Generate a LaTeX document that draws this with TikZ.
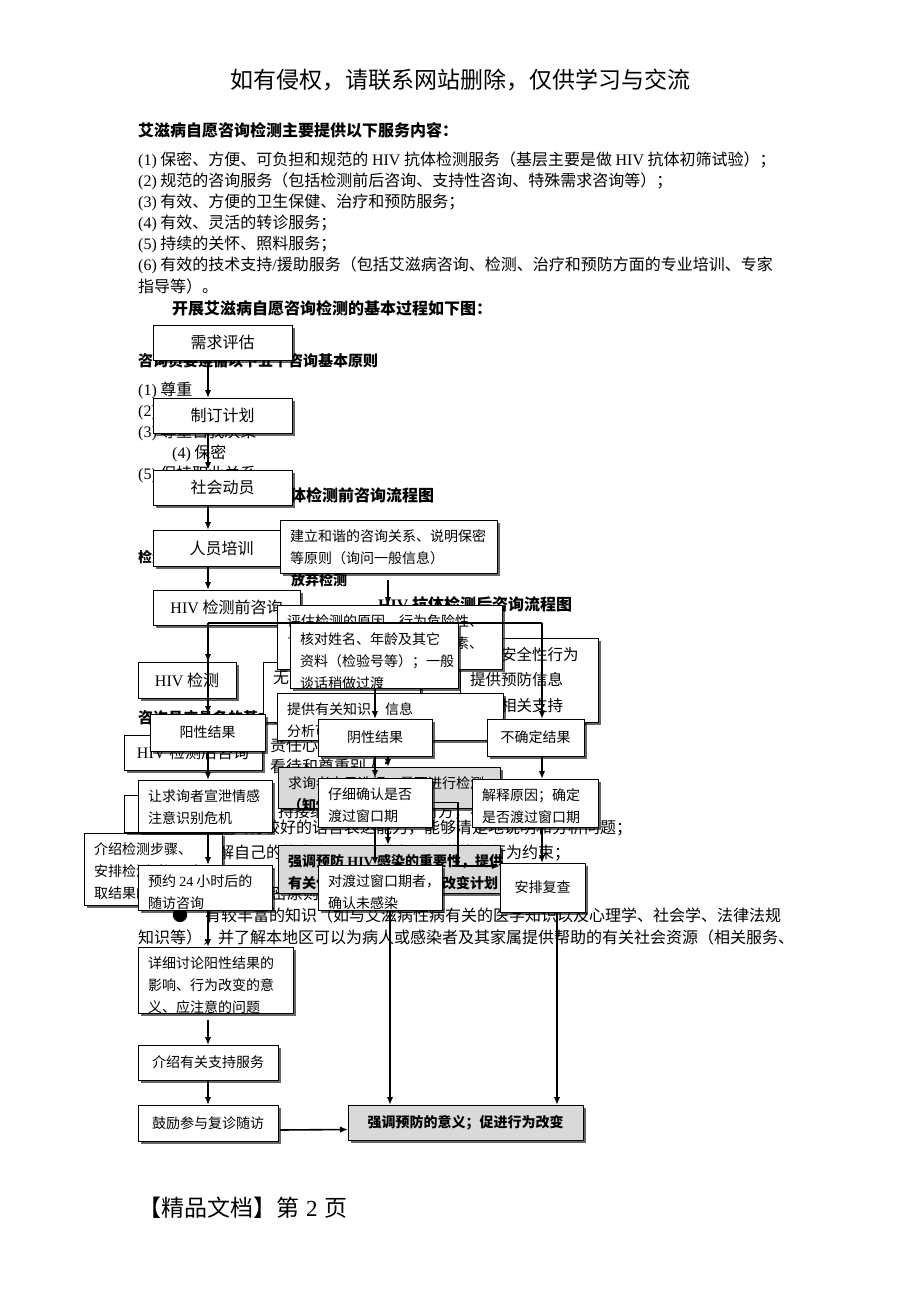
\documentclass[tikz,border=0pt]{standalone}
\usepackage{fontspec}
\setmainfont{Noto Sans CJK SC}
\newfontfamily\lat{Liberation Serif}
\usetikzlibrary{shadows,arrows.meta,calc}
\newcommand\bxc[7]{\node[#6,minimum width={(#4)-(#2)},minimum height={(#5)-(#3)}] (#1) at ({((#2)+(#4))/2},{((#3)+(#5))/2}) {#7};}
\newcommand\bxm[8]{\node[#6,minimum width={(#4)-(#2)},minimum height={(#5)-(#3)}] (#1) at ({((#2)+(#4))/2},{((#3)+(#5))/2}) {};
  \node[anchor=north west,inner sep=0pt,align=left,#7] (#1t) at ({(#2)+10},{(#3)+9}) {#8};}
\tikzset{
 bx/.style={draw, line width=0.8pt, fill=white, inner sep=0pt, outer sep=0pt,
   drop shadow={shadow xshift=3pt, shadow yshift=-3pt, fill=black, opacity=0.6}},
 gbx/.style={bx, fill=black!15},
 t16/.style={font=\fontsize{16}{21}\selectfont},
 t16l/.style={font=\fontsize{15.5}{25.5}\selectfont},
 t14/.style={font=\fontsize{14}{22}\selectfont},
 b14/.style={font=\fontsize{14}{22}\selectfont\bfseries},
 b15/.style={font=\fontsize{15}{21}\selectfont\bfseries},
 b16/.style={font=\fontsize{16}{21}\selectfont\bfseries},
 ar/.style={line width=1.6pt, -{Latex[length=8pt,width=6.5pt]}},
 ln/.style={line width=1.6pt},
 tx/.style={anchor=west, inner sep=0pt},
}
\begin{document}
\begin{tikzpicture}[x=1pt,y=-1pt]
\useasboundingbox (0,0) rectangle (920,1302);
\fill[white] (0,0) rectangle (920,1302);
% header / footer
\node[font=\fontsize{23}{23}\selectfont] (hdr) at (460,80) {如有侵权，请联系网站删除，仅供学习与交流};
\node[tx,font=\fontsize{23}{23}\selectfont] (ftr) at (138,1208) {【精品文档】第\hspace{7pt}{\lat 2}\hspace{7pt}页};
% top text
\node[tx,b16] (t0) at (138,130) {艾滋病自愿咨询检测主要提供以下服务内容：};
\node[tx,t16] (l1) at (138,160) {{\lat(1)}\ 保密、方便、可负担和规范的 {\lat HIV} 抗体检测服务（基层主要是做 {\lat HIV} 抗体初筛试验）；};
\node[tx,t16] (l2) at (138,181) {{\lat(2)}\ 规范的咨询服务（包括检测前后咨询、支持性咨询、特殊需求咨询等）；};
\node[tx,t16] (l3) at (138,202) {{\lat(3)}\ 有效、方便的卫生保健、治疗和预防服务；};
\node[tx,t16] (l4) at (138,223) {{\lat(4)}\ 有效、灵活的转诊服务；};
\node[tx,t16] (l5) at (138,244) {{\lat(5)}\ 持续的关怀、照料服务；};
\node[tx,t16] (l6) at (138,265) {{\lat(6)}\ 有效的技术支持{\lat/}援助服务（包括艾滋病咨询、检测、治疗和预防方面的专业培训、专家};
\node[tx,t16] (l7) at (138,286) {指导等）。};
\node[tx,b16] (t1) at (172,308) {开展艾滋病自愿咨询检测的基本过程如下图：};
% background text
\node[tx,b15] (p0) at (138,361) {咨询员要遵循以下五个咨询基本原则};
\node[tx,t16] (p1) at (138,390) {{\lat(1)}\ 尊重};
\node[tx,t16] (p2) at (138,411) {{\lat(2)}\ 理解和接纳};
\node[tx,t16] (p3) at (138,432) {{\lat(3)}\ 尊重自我决策};
\node[tx,t16] (p4) at (172,453) {{\lat(4)}\ 保密};
\node[tx,t16] (p5) at (138,474) {{\lat(5)}\ 保持职业关系};
\node[tx,b16] (pt) at (240,495) {{\lat\bfseries HIV} 抗体检测前咨询流程图};
\node[tx,b14] (pk) at (138,557) {检测前咨询要点};
\node[tx,b14] (fq) at (291,580) {放弃检测};
\node[tx,b16] (ht) at (378,604) {{\lat\bfseries HIV} 抗体检测后咨询流程图};
\node[tx,b15] (zx) at (138,718) {咨询员应具备的基本条件};
\node[tx,t16] (q1) at (270,745) {责任心和同情心};
\node[tx,t16] (q2) at (270,767) {看待和尊重别人；};
\node[tx,t16] (q3) at (278,812) {持接纳的态度，尊重对方，不加评判};
\node[tx,t16] (q4) at (232,828) {具有较好的语言表达能力，能够清楚地说明和分析问题；};
\node[tx,t16] (q5) at (202,853) {了解自己的能力和局限，遵守职业道德和行为约束；};
\node[tx,t16] (q6) at (255,893) {保密原则};
\node[t16] (bul) at (180,915) {●};
\node[tx,t16] (q7) at (205,915) {有较丰富的知识（如与艾滋病性病有关的医学知识以及心理学、社会学、法律法规};
\node[tx,t16] (q8) at (138,937) {知识等），并了解本地区可以为病人或感染者及其家属提供帮助的有关社会资源（相关服务、};
% chart 1
\coordinate (vx) at (208,0);
\coordinate (vr) at (542,0);
\coordinate (vm) at (375,0);
\coordinate (vq) at (390,0);
\coordinate (vs) at (557,0);
\coordinate (vk) at (458,0);
\coordinate (vu) at (388,0);
\bxc{c1}{153}{325}{292}{360}{bx,t16}{需求评估}
\bxc{c2}{153}{398}{292}{433}{bx,t16}{制订计划}
\bxc{c3}{153}{470}{292}{505}{bx,t16}{社会动员}
\bxc{c4}{153}{530}{290}{566}{bx,t16}{人员培训}
\bxc{c5}{153}{590}{300}{625}{bx,t16}{{\lat HIV} 检测前咨询}
\bxc{c6}{138}{662}{236}{698}{bx,t16}{{\lat HIV} 检测}
\bxc{c7}{124}{735}{262}{770}{bx,t16}{{\lat HIV} 检测后咨询}
\draw[ar] (c1.south -| vx) -- (c2.north -| vx);
\draw[ar] (c2.south -| vx) -- (c3.north -| vx);
\draw[ar] (c3.south -| vx) -- (c4.north -| vx);
\draw[ar] (c4.south -| vx) -- (c5.north -| vx);
\draw[ar] (c5.south -| vx) -- (c6.north -| vx);
\draw[ar] (c6.south -| vx) -- (c7.north -| vx);
% pre-test flow
\bxm{r0}{460}{638}{598}{722}{bx}{t16l}{促进安全性行为\\提供预防信息\\提供相关支持}
\bxm{r3}{263}{662}{420}{722}{bx}{t16}{无}
\bxm{r1}{280}{520}{497}{573}{bx}{t14}{建立和谐的咨询关系、说明保密\\等原则（询问一般信息）}
\bxm{r2}{277}{605}{502}{669}{bx}{t14}{评估检测的原因、行为危险性、\\了解求询者的心理和社会因素、}
\bxm{r4}{277}{693}{503}{740}{bx}{t14}{提供有关知识、信息\\分析可能的结果}
\bxm{r5}{278}{767}{500}{808}{gbx}{t14}{求询者自己选择，是否进行检测\\{\bfseries（知情同意）}}
\bxm{r6}{278}{845}{500}{893}{gbx}{b14}{强调预防 {\lat\bfseries HIV} 感染的重要性，提供\\有关信息，协助制定行为改变计划}
\bxm{r7}{84}{833}{222}{905}{bx}{t14}{介绍检测步骤、\\安排检测时间、领\\取结果的时间}
\bxc{r8}{124}{795}{230}{832}{bx}{}
\coordinate (u1) at (388,580);
\draw[ar] (u1) -- (u1 |- r2.north);
\draw[ar] (r4.south -| vu) -- (r5.north -| vu);
\draw[ar] (r5.south -| vu) -- (r6.north -| vu);
% post-test flow
\bxm{s0}{290}{623}{458}{688}{bx}{t14}{核对姓名、年龄及其它\\资料（检验号等）；一般\\谈话稍做过渡}
\bxc{s1}{150}{714}{265}{751}{bx,t14}{阳性结果}
\bxc{s2}{318}{719}{432}{756}{bx,t14}{阴性结果}
\bxc{s3}{487}{719}{584}{756}{bx,t14}{不确定结果}
\bxm{s4}{138}{780}{272}{832}{bx}{t14}{让求询者宣泄情感\\注意识别危机}
\bxm{s5}{318}{778}{432}{827}{bx}{t14}{仔细确认是否\\渡过窗口期}
\bxm{s6}{472}{779}{598}{827}{bx}{t14}{解释原因；确定\\是否渡过窗口期}
\bxm{s7}{138}{865}{272}{910}{bx}{t14}{预约 {\lat 24} 小时后的\\随访咨询}
\bxm{s8}{318}{865}{442}{910}{bx}{t14}{对渡过窗口期者，\\确认未感染}
\bxc{s9}{500}{863}{585}{912}{bx,t14}{安排复查}
\bxm{s10}{138}{947}{293}{1013}{bx}{t14}{详细讨论阳性结果的\\影响、行为改变的意\\义、应注意的问题}
\bxc{s11}{138}{1045}{278}{1080}{bx,t14}{介绍有关支持服务}
\bxc{s12}{138}{1105}{278}{1141}{bx,t14}{鼓励参与复诊随访}
\bxc{s13}{348}{1105}{583}{1140}{gbx,b14}{强调预防的意义；促进行为改变}
\draw[ln] (s0.north -| vx) -- (s0.north -| vr);
\draw[ar] (s0.north -| vx) -- (s1.north -| vx);
\draw[ar] (s0.north -| vr) -- (s3.north -| vr);
\draw[ar] (s0.south -| vm) -- (s2.north -| vm);
\draw[ar] (s1.south -| vx) -- (s4.north -| vx);
\draw[ar] (s2.south -| vm) -- (s5.north -| vm);
\draw[ar] (s3.south -| vr) -- (s6.north -| vr);
\draw[ar] (s4.south -| vx) -- (s7.north -| vx);
\draw[ar] (s5.south -| vm) -- (s8.north -| vm);
\draw[ar] (s6.south -| vr) -- (s9.north -| vr);
\coordinate (kk) at ($(s9.north west)+(0,3)$);
\draw[ar] (s5.east) -- (s5.east -| vk) |- (kk);
\draw[ar] (s7.south -| vx) -- (s10.north -| vx);
\draw[ar] ($(s10.south -| vx)+(0,7)$) -- (s11.north -| vx);
\draw[ar] (s11.south -| vx) -- (s12.north -| vx);
\draw[ar] ($(s12.east)+(2,7)$) -- ($(s13.west)+(0,7)$);
\draw[ar] (s8.south -| vq) -- (s13.north -| vq);
\draw[ar] (s9.south -| vs) -- (s13.north -| vs);
\end{tikzpicture}
\end{document}
